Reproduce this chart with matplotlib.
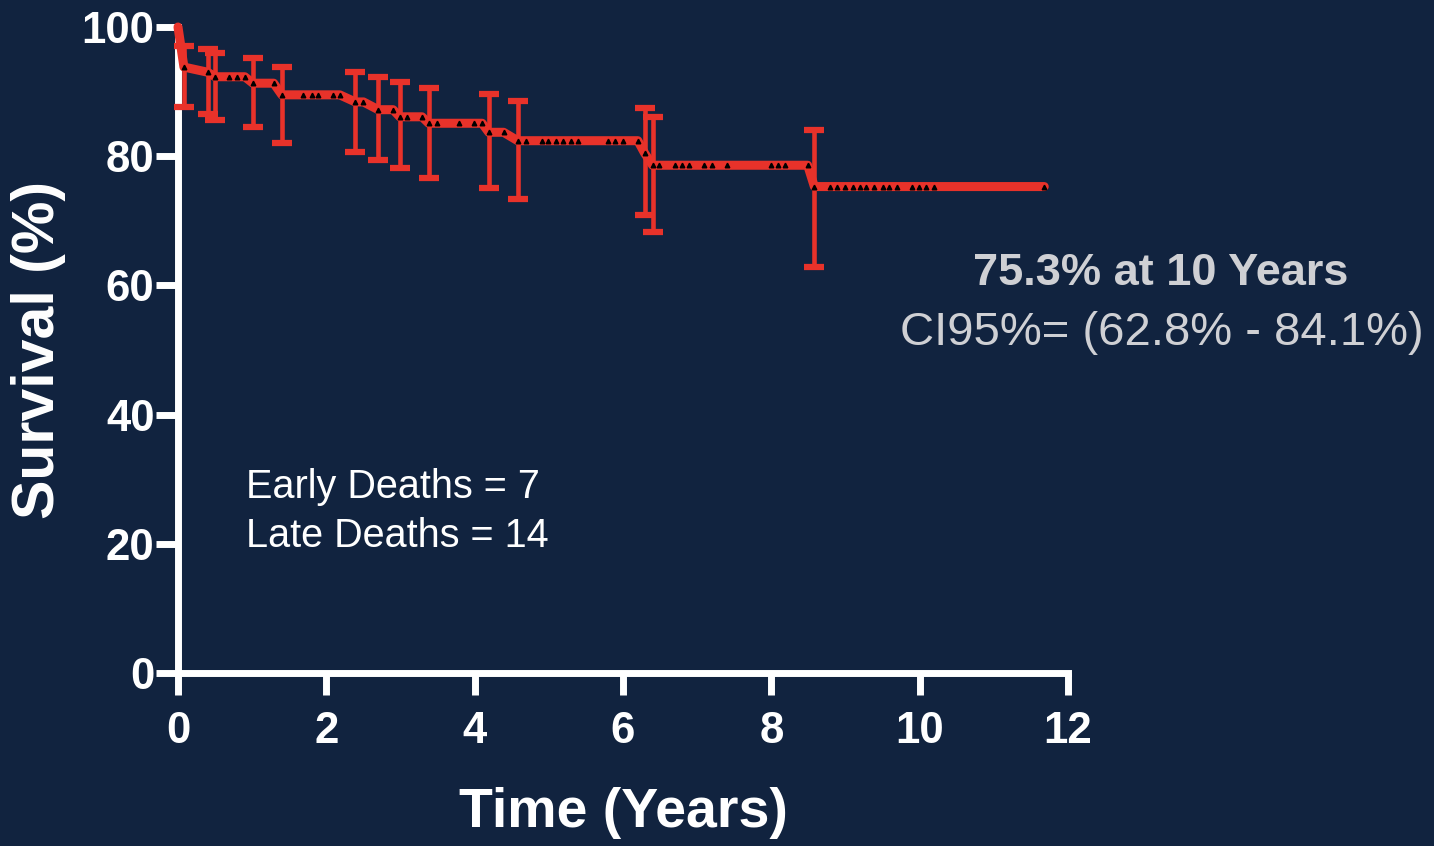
import matplotlib
matplotlib.use("Agg")
import matplotlib.pyplot as plt
import numpy as np

# Kaplan-Meier survival
event_times = [0.08, 0.40, 0.50, 1.01, 1.40, 2.39, 2.70, 2.99, 3.38, 4.19, 4.58, 6.29, 6.40, 8.58]
event_surv = [93.8, 93.0, 92.3, 91.3, 89.5, 88.4, 87.2, 86.1, 85.1, 83.7, 82.4, 80.5, 78.6, 75.3]
ci_upper = [97.1, 96.6, 96.0, 95.2, 93.8, 93.0, 92.3, 91.5, 90.6, 89.7, 88.5, 87.5, 86.1, 84.1]
ci_lower = [87.6, 86.5, 85.6, 84.5, 82.0, 80.7, 79.4, 78.2, 76.6, 75.1, 73.4, 70.9, 68.3, 62.8]

# times of every plotted point (censored subjects marked along the curve)
mark_times = [0.08, 0.40, 0.50, 0.69, 0.80, 0.90, 1.01, 1.29, 1.40, 1.69, 1.81, 1.89,
              2.09, 2.18, 2.39, 2.50, 2.70, 2.90, 2.99, 3.09, 3.29, 3.38, 3.49, 3.79,
              3.99, 4.10, 4.19, 4.39, 4.58, 4.69, 4.91, 4.99, 5.10, 5.19, 5.30, 5.39,
              5.80, 5.89, 6.00, 6.20, 6.29, 6.40, 6.49, 6.70, 6.79, 6.89, 7.09, 7.20,
              7.40, 7.99, 8.09, 8.19, 8.49, 8.58, 8.79, 8.88, 8.99, 9.10, 9.19, 9.28,
              9.39, 9.50, 9.59, 9.69, 9.90, 9.99, 10.09, 10.19, 11.68]

x_ticks = [0, 2, 4, 6, 8, 10, 12]
y_ticks = [0, 20, 40, 60, 80, 100]

bg = '#11233f'
red = '#e8322a'
plt.rcParams['font.family'] = ['Liberation Sans', 'DejaVu Sans']


def km_value(t):
    # survival = value of the last event at or before t
    idx = np.searchsorted(event_times, t, side='right') - 1
    return 100.0 if idx < 0 else event_surv[idx]


line_t = [0.0] + mark_times
line_s = [100.0] + [km_value(t) for t in mark_times]

fig = plt.figure(figsize=(14.34, 8.46), dpi=100, facecolor=bg)
ax = fig.add_axes([178 / 1434, 1 - 673 / 846, (1068 - 178) / 1434, (673 - 27) / 846])
ax.set_facecolor(bg)

# error bars at each death
yerr = [np.array(event_surv) - np.array(ci_lower), np.array(ci_upper) - np.array(event_surv)]
eb = ax.errorbar(event_times, event_surv, yerr=yerr, fmt='none', ecolor=red,
                 elinewidth=3.3, capsize=7, capthick=4.5, clip_on=False, zorder=3)
for cap in eb[1]:
    cap.set_solid_capstyle('round')

# survival curve
ax.plot(line_t, line_s, color=red, lw=6.5, solid_capstyle='round',
        solid_joinstyle='round', clip_on=False, zorder=4)
ax.plot(mark_times, [km_value(t) for t in mark_times], ls='none', marker='^',
        ms=3.3, color='black', clip_on=False, zorder=5)

ax.set_xlim(0, 12)
ax.set_ylim(0, 100)
ax.set_xticks(x_ticks)
ax.set_yticks(y_ticks)
for side in ['top', 'right']:
    ax.spines[side].set_visible(False)
for side in ['left', 'bottom']:
    ax.spines[side].set_color('white')
    ax.spines[side].set_linewidth(5)
    ax.spines[side].set_capstyle('projecting')
ax.tick_params(axis='both', direction='out', length=16, width=5, color='white',
               labelcolor='white', labelsize=31.5)
ax.tick_params(axis='x', pad=11)
ax.tick_params(axis='y', pad=1)
for lab in ax.get_xticklabels() + ax.get_yticklabels():
    lab.set_fontweight('bold')

# axis titles
fig.text(39 / 1434, 1 - 350 / 846, 'Survival (%)', rotation=90, ha='center', va='center',
         color='white', fontsize=42.5, fontweight='bold')
fig.text(623 / 1434, 1 - 827 / 846, 'Time (Years)', ha='center', va='baseline',
         color='white', fontsize=40, fontweight='bold')

# annotations
fig.text(246 / 1434, 1 - 498 / 846, 'Early Deaths = 7', ha='left', va='baseline',
         color='white', fontsize=28.5)
fig.text(246 / 1434, 1 - 547 / 846, 'Late Deaths = 14', ha='left', va='baseline',
         color='white', fontsize=28.5)
fig.text(1161 / 1434, 1 - 285 / 846, '75.3% at 10 Years', ha='center', va='baseline',
         color='#cfd0d4', fontsize=32.5, fontweight='bold')
fig.text(1162 / 1434, 1 - 345 / 846, 'CI95%= (62.8% - 84.1%)', ha='center', va='baseline',
         color='#cfd0d4', fontsize=34)

fig.savefig('out.png', dpi=100, facecolor=bg)
